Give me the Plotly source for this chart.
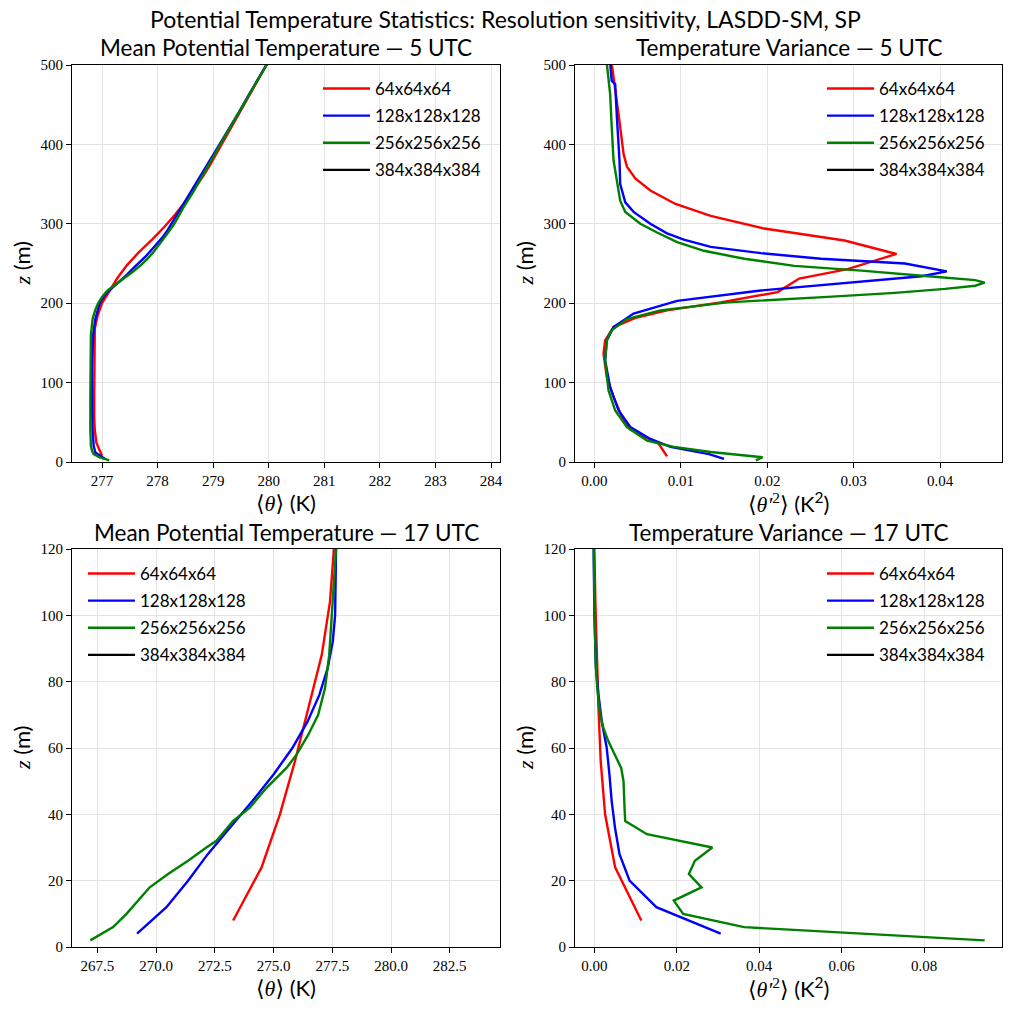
import plotly.graph_objects as go

W = 1011
H = 1011

# ---------------- data ----------------
series_names = ["64x64x64", "128x128x128", "256x256x256", "384x384x384"]
series_colors = ["#ff0000", "#0000ff", "#008000", "#000000"]

# Panel 1: mean potential temperature, 5 UTC
m5_z_64 = [8, 24, 40, 56, 88, 120, 152, 168, 184, 200, 216, 232, 248, 264, 280, 296, 312, 328, 344, 360,
           376, 392, 408, 424, 440, 456, 472, 488, 504]
m5_t_64 = [277.0, 276.9, 276.87, 276.86, 276.86, 276.86, 276.86, 276.87, 276.92, 277.0, 277.14, 277.28,
           277.45, 277.66, 277.9, 278.12, 278.32, 278.5, 278.66, 278.82, 278.96, 279.09, 279.21, 279.34,
           279.47, 279.6, 279.73, 279.86, 279.99]
m5_z_128 = [4, 12, 20, 40, 80, 120, 160, 180, 196, 204, 212, 220, 228, 236, 244, 252, 260, 268, 276, 284,
            292, 300, 316, 332, 348, 364, 380, 400, 420, 440, 460, 480, 500, 504]
m5_t_128 = [277.05, 276.88, 276.85, 276.83, 276.82, 276.82, 276.84, 276.88, 276.94, 276.99, 277.07, 277.2,
            277.33, 277.45, 277.56, 277.68, 277.8, 277.9, 278.0, 278.1, 278.18, 278.25, 278.38, 278.52,
            278.66, 278.8, 278.95, 279.12, 279.29, 279.46, 279.62, 279.79, 279.96, 279.99]
m5_z_256 = [2, 6, 10, 14, 20, 40, 80, 120, 160, 180, 192, 200, 208, 216, 220, 226, 232, 240, 248, 256, 264,
            272, 280, 290, 300, 320, 340, 360, 380, 400, 420, 440, 460, 480, 500, 502]
m5_t_256 = [277.13, 276.95, 276.85, 276.82, 276.8, 276.79, 276.79, 276.79, 276.8, 276.83, 276.88, 276.93,
            277.0, 277.1, 277.18, 277.3, 277.42, 277.56, 277.7, 277.82, 277.92, 278.01, 278.1, 278.2,
            278.3, 278.46, 278.64, 278.8, 278.96, 279.12, 279.29, 279.46, 279.62, 279.79, 279.96, 279.98]

# Panel 2: temperature variance, 5 UTC
v5_z_64 = [7, 23, 41, 57, 82, 107, 136, 153, 170, 182, 191, 201, 214, 231, 243, 262, 279, 294, 310, 325,
           342, 357, 372, 388, 422, 455, 489, 502]
v5_v_64 = [0.0084, 0.00744, 0.00415, 0.00318, 0.00221, 0.00143, 0.00105, 0.00124, 0.00221, 0.0049, 0.0084,
           0.0146, 0.0212, 0.0237, 0.0293, 0.03496, 0.02895, 0.01965, 0.01345, 0.00938, 0.00647, 0.00473,
           0.00376, 0.00337, 0.00298, 0.0026, 0.0022, 0.002]
v5_z_128 = [4, 10, 19, 29, 44, 65, 94, 128, 153, 170, 187, 203, 216, 227, 234, 240, 250, 256, 263, 271, 280,
            288, 300, 315, 327, 350, 380, 434, 476, 480, 502]
v5_v_128 = [0.015, 0.01326, 0.0088, 0.00647, 0.00415, 0.00279, 0.00182, 0.00124, 0.00143, 0.00221, 0.00453,
            0.00957, 0.01926, 0.0309, 0.03787, 0.04078, 0.03593, 0.02624, 0.01926, 0.01345, 0.01035, 0.0084,
            0.00647, 0.00453, 0.00357, 0.00298, 0.0029, 0.0026, 0.0024, 0.002, 0.00182]
v5_z_256 = [2, 6, 12.6, 19, 27, 44, 65, 90, 128, 153, 166, 180, 191, 201, 208, 213, 218, 222, 226, 229, 234,
            241, 247, 256, 266, 277, 289, 300, 315, 329, 354, 380, 422, 463, 502]
v5_v_256 = [0.01868, 0.01946, 0.01345, 0.0092, 0.00609, 0.00376, 0.0024, 0.00163, 0.00124, 0.00143, 0.002,
            0.00376, 0.00764, 0.01539, 0.027, 0.03477, 0.04058, 0.04407, 0.04516, 0.04407, 0.03864, 0.0309,
            0.02314, 0.01733, 0.01267, 0.00957, 0.00725, 0.00531, 0.00357, 0.00298, 0.0026, 0.00221, 0.002,
            0.00182, 0.00143]

# Panel 3: mean potential temperature, 17 UTC
m17_z_64 = [8, 24, 40, 56, 72, 88, 104, 120, 136]
m17_t_64 = [273.28, 274.49, 275.27, 275.91, 276.48, 277.05, 277.4, 277.57, 277.62]
m17_z_128 = [4, 12, 20, 28, 36, 44, 52, 60, 68, 76, 84, 92, 100, 108, 116, 124]
m17_t_128 = [269.19, 270.44, 271.36, 272.2, 273.15, 274.1, 275.0, 275.8, 276.45, 276.95, 277.3, 277.52,
             277.62, 277.65, 277.66, 277.67]
m17_z_256 = [2, 6, 10, 14, 18, 22, 26, 30, 32, 38, 42, 48, 54, 58, 64, 70, 78, 88, 98, 108, 120, 124]
m17_t_256 = [267.2, 268.17, 268.74, 269.23, 269.73, 270.51, 271.36, 272.14, 272.57, 273.28, 273.99, 274.7,
             275.55, 275.98, 276.48, 276.9, 277.19, 277.37, 277.47, 277.57, 277.66, 277.67]

# Panel 4: temperature variance, 17 UTC
v17_z_64 = [8, 24, 40, 56, 72, 88, 104, 120, 136]
v17_v_64 = [0.01138, 0.00504, 0.0026, 0.00154, 0.001, 0.00057, 0.00024, 0.0, 0.0]
v17_z_128 = [4, 12, 20, 28, 36, 44, 52, 60, 68, 76, 84, 92, 100, 124]
v17_v_128 = [0.03065, 0.01504, 0.00854, 0.0061, 0.005, 0.0042, 0.00366, 0.003, 0.0018, 0.001, 0.0004,
             0.00016, 0.0, -0.0002]
v17_z_256 = [2, 6, 10, 14, 18, 22, 26, 30, 34, 38, 42, 46, 50, 54, 58, 62, 66, 70, 78, 86, 98, 124]
v17_v_256 = [0.0947, 0.03634, 0.02154, 0.01927, 0.026, 0.02293, 0.02439, 0.02862, 0.01276, 0.00748, 0.00732,
             0.00724, 0.00707, 0.0065, 0.005, 0.0034, 0.0022, 0.0014, 0.0007, 0.0003, 0.0001, -0.0002]

# 384^3 series: present in the legend, no data drawn
res384_x = [None]
res384_z = [None]

suptitle = "Potential Temperature Statistics: Resolution sensitivity, LASDD-SM, SP"
panel_titles = ["Mean Potential Temperature — 5 UTC", "Temperature Variance — 5 UTC",
                "Mean Potential Temperature — 17 UTC", "Temperature Variance — 17 UTC"]

# ---------------- layout helpers ----------------
SANS = "Lato, 'Open Sans', sans-serif"
SERIF = "'Liberation Serif', 'DejaVu Serif', serif"

def px_x(p):
    return p / W

def px_y(p):
    return 1 - p / H

col_dom = [(72, 500), (575, 1002)]
row_dom = [(65, 462), (549, 947)]

panels = [
    dict(data=[(m5_t_64, m5_z_64), (m5_t_128, m5_z_128), (m5_t_256, m5_z_256), (res384_x, res384_z)],
         xr=[276.46, 284.16], yr=[0, 500], xt=[277, 278, 279, 280, 281, 282, 283, 284], xfmt=None,
         yt=[0, 100, 200, 300, 400, 500], col=0, row=0, xlabel="t", leg=(318, 71)),
    dict(data=[(v5_v_64, v5_z_64), (v5_v_128, v5_z_128), (v5_v_256, v5_z_256), (res384_x, res384_z)],
         xr=[-0.00225, 0.04717], yr=[0, 500], xt=[0, 0.01, 0.02, 0.03, 0.04], xfmt=".2f",
         yt=[0, 100, 200, 300, 400, 500], col=1, row=0, xlabel="v", leg=(822, 71)),
    dict(data=[(m17_t_64, m17_z_64), (m17_t_128, m17_z_128), (m17_t_256, m17_z_256), (res384_x, res384_z)],
         xr=[266.42, 284.64], yr=[0, 120], xt=[267.5, 270, 272.5, 275, 277.5, 280, 282.5], xfmt=".1f",
         yt=[0, 20, 40, 60, 80, 100, 120], col=0, row=1, xlabel="t", leg=(83, 556)),
    dict(data=[(v17_v_64, v17_z_64), (v17_v_128, v17_z_128), (v17_v_256, v17_z_256), (res384_x, res384_z)],
         xr=[-0.0047, 0.0989], yr=[0, 120], xt=[0, 0.02, 0.04, 0.06, 0.08], xfmt=".2f",
         yt=[0, 20, 40, 60, 80, 100, 120], col=1, row=1, xlabel="v", leg=(822, 556)),
]

fig = go.Figure()
annotations = []
layout_upd = {}

xlabel_text = {
    "t": f"<span style=\"font-family:{SERIF}\">⟨<i>θ</i>⟩</span> (K)",
    "v": f"<span style=\"font-family:{SERIF}\">⟨<i>θ′</i><sup>2</sup>⟩</span> (K<sup>2</sup>)",
}

for i, p in enumerate(panels):
    n = i + 1
    xa = "x" if n == 1 else f"x{n}"
    ya = "y" if n == 1 else f"y{n}"
    leg = "legend" if n == 1 else f"legend{n}"
    for j, (xs, zs) in enumerate(p["data"]):
        fig.add_trace(go.Scatter(
            x=xs, y=zs, mode="lines", name=series_names[j],
            line=dict(color=series_colors[j], width=2.4),
            xaxis=xa, yaxis=ya, legend=leg, legendgroup=f"p{n}s{j}",
            showlegend=True, cliponaxis=True,
        ))
    cx0, cx1 = col_dom[p["col"]]
    ry0, ry1 = row_dom[p["row"]]
    axcommon = dict(showline=True, linecolor="black", linewidth=1, mirror=True,
                    ticks="outside", ticklen=5, tickwidth=1, tickcolor="black",
                    showgrid=True, gridcolor="#e3e3e3", gridwidth=1, zeroline=False,
                    tickfont=dict(family=SERIF, size=15, color="black"), automargin=False)
    xkw = dict(axcommon, domain=[px_x(cx0), px_x(cx1)], range=p["xr"], tickmode="array",
               tickvals=p["xt"], anchor=ya)
    if p["xfmt"]:
        xkw["tickformat"] = p["xfmt"]
    ykw = dict(axcommon, domain=[px_y(ry1), px_y(ry0)], range=p["yr"], tickmode="array",
               tickvals=p["yt"], anchor=xa)
    layout_upd["xaxis" if n == 1 else f"xaxis{n}"] = xkw
    layout_upd["yaxis" if n == 1 else f"yaxis{n}"] = ykw
    lx, ly = p["leg"]
    layout_upd[leg] = dict(x=px_x(lx), y=px_y(ly), xanchor="left", yanchor="top",
                           xref="paper", yref="paper",
                           font=dict(family=SANS, size=17, color="black"),
                           bgcolor="rgba(255,255,255,0)", borderwidth=0,
                           tracegroupgap=2, itemwidth=47, traceorder="grouped")
    cxm = (cx0 + cx1) / 2
    # panel title
    annotations.append(dict(text=panel_titles[i], x=px_x(cxm), y=px_y(ry0 - 17),
                            xref="paper", yref="paper", showarrow=False,
                            xanchor="center", yanchor="middle",
                            font=dict(family=SANS, size=22.5, color="black")))
    # x label
    annotations.append(dict(text=xlabel_text[p["xlabel"]], x=px_x(cxm), y=px_y(ry1 + 40),
                            xref="paper", yref="paper", showarrow=False,
                            xanchor="center", yanchor="middle",
                            font=dict(family=SANS, size=22, color="black")))
    # y label
    annotations.append(dict(text=f"<span style=\"font-family:{SERIF}\"><i>z</i></span> (m)",
                            x=px_x(cx0 - 51), y=px_y((ry0 + ry1) / 2),
                            xref="paper", yref="paper", showarrow=False, textangle=-90,
                            xanchor="center", yanchor="middle",
                            font=dict(family=SANS, size=22, color="black")))

annotations.append(dict(text=suptitle, x=px_x(505), y=px_y(19), xref="paper", yref="paper",
                        showarrow=False, xanchor="center", yanchor="middle",
                        font=dict(family=SANS, size=23, color="black")))

fig.update_layout(
    width=W, height=H, margin=dict(l=0, r=0, t=0, b=0),
    paper_bgcolor="white", plot_bgcolor="white",
    annotations=annotations, **layout_upd,
)

fig.write_html("out.html")
